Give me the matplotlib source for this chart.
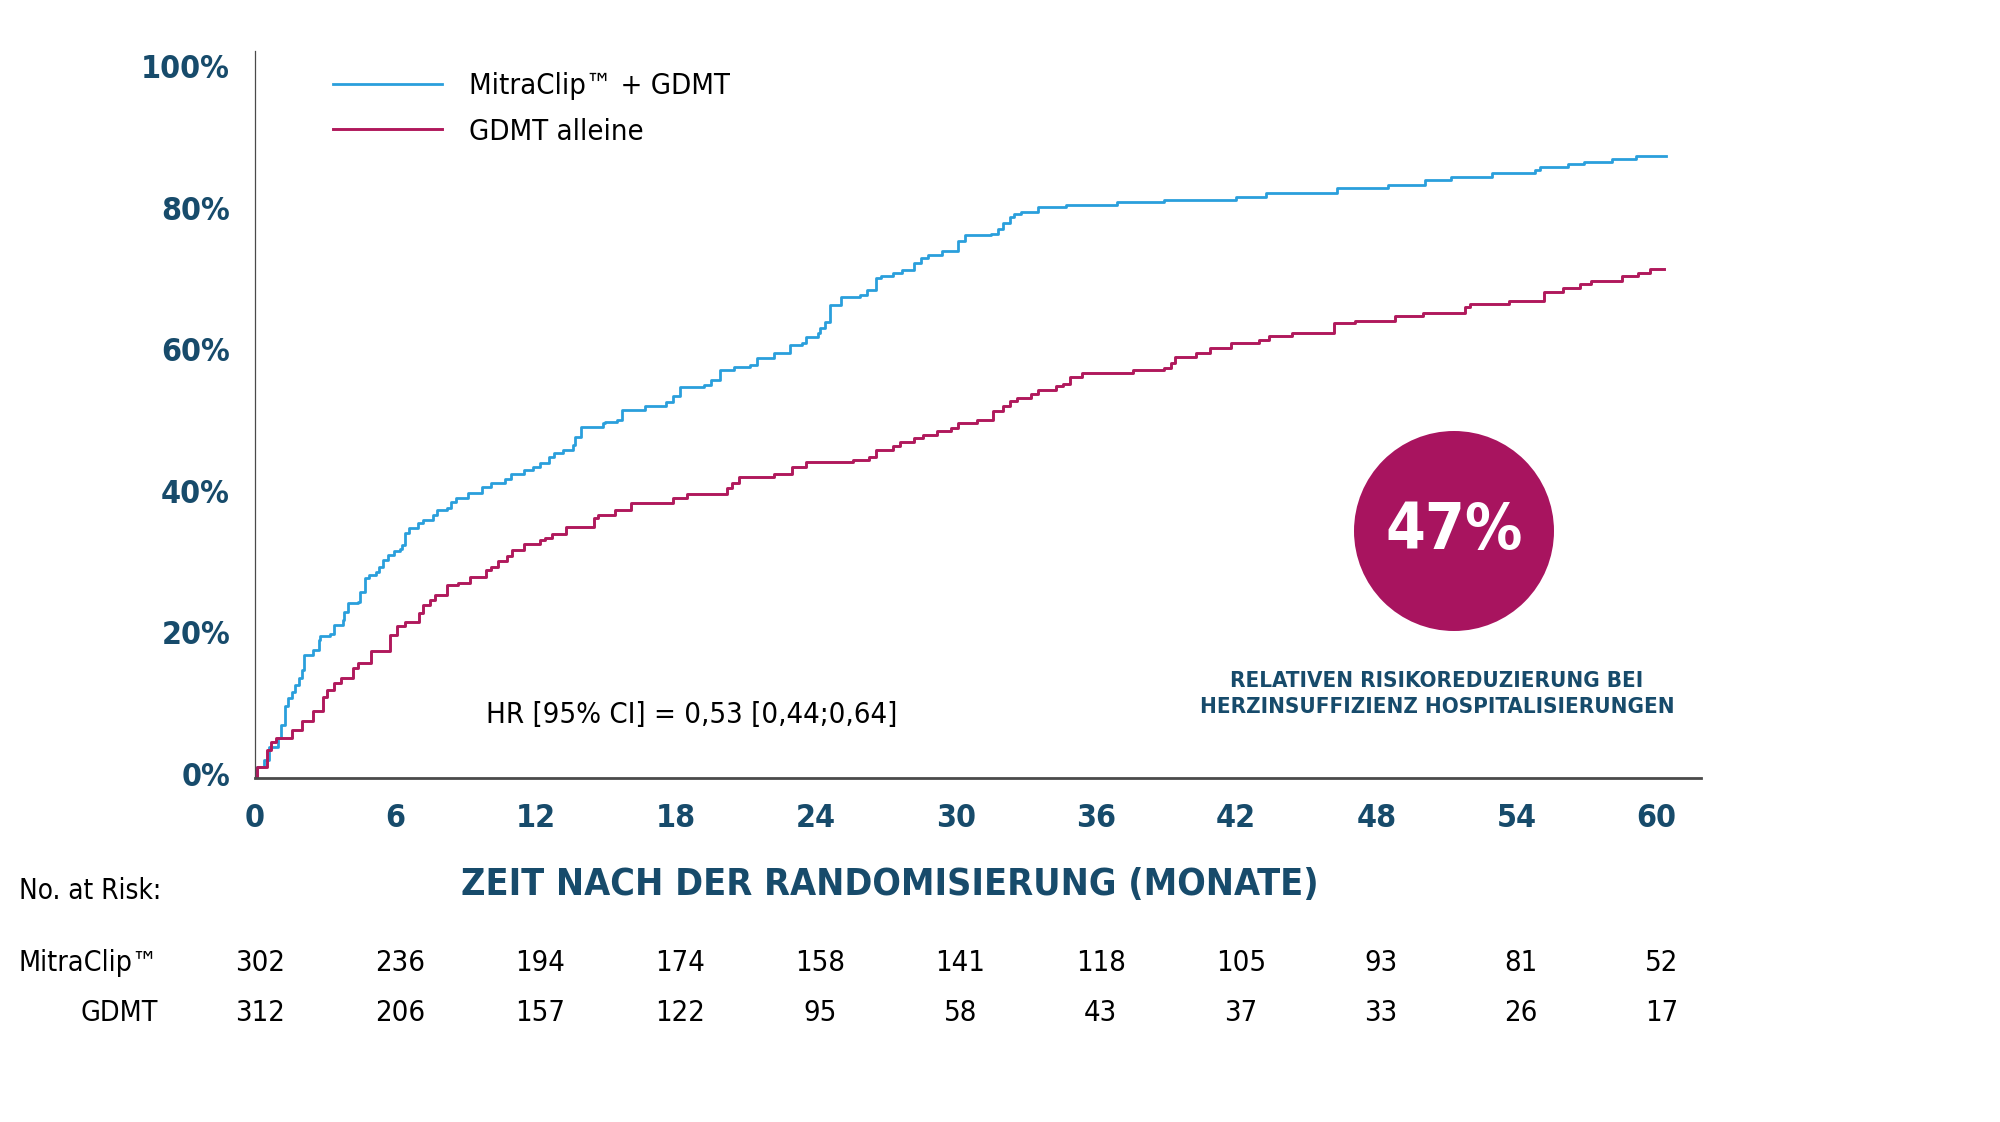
import matplotlib
matplotlib.use("Agg")
import matplotlib.pyplot as plt
from matplotlib.patches import Ellipse
from matplotlib.transforms import blended_transform_factory, ScaledTranslation

# Kaplan-Meier style cumulative event rates (months, %)
clip_t = [0, 0.1, 0.4, 0.6, 1.0, 1.1, 1.3, 1.4, 1.6, 1.7, 1.9, 2.0, 2.1, 2.5, 2.75, 2.8,
          3.2, 3.4, 3.75, 3.8, 4.0, 4.4, 4.5, 4.7, 4.9, 5.2, 5.3, 5.5, 5.7, 5.96, 6.2, 6.3,
          6.4, 6.6, 6.96, 7.2, 7.6, 7.8, 8.2, 8.4, 8.6, 9.1, 9.7, 10.1, 10.7, 10.95, 11.5,
          11.9, 12.2, 12.6, 12.8, 13.2, 13.6, 13.7, 13.95, 14.9, 15.0, 15.5, 15.7, 16.7,
          17.6, 17.9, 18.2, 19.2, 19.5, 19.9, 20.5, 21.2, 21.5, 22.2, 22.9, 23.4, 23.6, 24.1,
          24.2, 24.4, 24.6, 25.1, 25.9, 26.2, 26.6, 26.8, 27.3, 27.7, 28.2, 28.5, 28.8, 29.4,
          30.1, 30.4, 31.5, 31.8, 32.0, 32.3, 32.5, 32.8, 33.5, 34.7, 36.9, 38.9, 42.0, 43.3,
          46.3, 48.5, 50.1, 51.2, 52.96, 54.8, 55.0, 56.2, 56.9, 58.1, 59.1, 60.4]
clip_pct = [0, 1.6, 2.5, 4.4, 5.6, 7.5, 10.1, 11.3, 12.2, 13.1, 14.1, 15.3, 17.4, 18.1, 19.5, 20.0,
            20.4, 21.6, 22.3, 23.5, 24.7, 24.9, 26.3, 28.2, 28.7, 29.1, 29.8, 30.8, 31.5, 32.0, 32.4, 32.9,
            34.6, 35.3, 36.0, 36.4, 37.1, 37.9, 38.1, 39.0, 39.5, 40.2, 41.1, 41.7, 42.3, 42.9, 43.5,
            44.0, 44.5, 45.4, 45.9, 46.3, 47.0, 48.2, 49.6, 50.1, 50.3, 50.6, 52.0, 52.6,
            53.1, 53.9, 55.3, 55.5, 56.2, 57.6, 58.1, 58.3, 59.3, 60.0, 61.2, 61.4, 62.3, 62.8,
            63.5, 64.4, 66.8, 68.0, 68.2, 68.9, 70.6, 70.9, 71.4, 71.8, 72.7, 73.4, 73.9, 74.4,
            75.8, 76.7, 76.9, 77.6, 78.4, 79.3, 79.7, 80.0, 80.6, 80.9, 81.3, 81.6, 82.0, 82.7,
            83.3, 83.8, 84.5, 84.9, 85.4, 85.9, 86.3, 86.7, 87.0, 87.4, 87.9, 87.9]

gdmt_t = [0, 0.1, 0.5, 0.7, 0.9, 1.25, 1.6, 2.0, 2.5, 2.9, 3.1, 3.4, 3.7, 4.2, 4.4, 4.96,
          5.8, 6.1, 6.4, 7.0, 7.2, 7.5, 7.7, 8.2, 8.7, 9.2, 9.9, 10.1, 10.4, 10.8, 11.0,
          11.5, 12.2, 12.4, 12.7, 13.3, 14.0, 14.5, 14.7, 15.4, 16.1, 17.9, 18.5, 20.2, 20.4,
          20.7, 22.2, 23.0, 23.6, 25.6, 26.3, 26.6, 27.3, 27.6, 28.2, 28.6, 29.2, 29.8, 30.1,
          30.9, 31.6, 32.0, 32.3, 32.6, 33.2, 33.5, 34.3, 34.6, 34.9, 35.4, 37.6, 38.9, 39.2,
          39.4, 40.3, 40.9, 41.8, 43.0, 43.4, 44.4, 46.2, 47.1, 48.8, 50.0, 51.8, 52.0, 53.7,
          55.2, 56.0, 56.7, 57.2, 58.5, 59.2, 59.7, 60.3]
gdmt_pct = [0, 1.6, 4.0, 5.1, 5.6, 5.6, 6.8, 8.0, 9.4, 11.5, 12.4, 13.4, 14.1, 15.5, 16.2, 18.0,
            20.2, 21.4, 22.1, 23.3, 24.4, 25.2, 25.8, 27.3, 27.6, 28.4, 29.4, 29.8, 30.6, 31.3, 32.2,
            33.1, 33.6, 33.9, 34.5, 35.4, 35.5, 36.7, 37.1, 37.9, 38.8, 39.5, 40.1, 41.0, 41.7,
            42.5, 42.9, 44.0, 44.7, 44.9, 45.4, 46.3, 46.9, 47.4, 48.0, 48.4, 49.0, 49.5, 50.1,
            50.6, 51.8, 52.6, 53.3, 53.7, 54.3, 54.8, 55.4, 55.7, 56.7, 57.2, 57.6, 57.9, 58.6,
            59.4, 60.0, 60.7, 61.4, 61.9, 62.4, 62.8, 64.2, 64.6, 65.3, 65.7, 66.6, 67.0, 67.4,
            68.7, 69.2, 69.8, 70.2, 70.9, 71.4, 71.9, 71.9]

x_ticks = [0, 6, 12, 18, 24, 30, 36, 42, 48, 54, 60]
y_ticks = [0, 20, 40, 60, 80, 100]
risk_clip = [302, 236, 194, 174, 158, 141, 118, 105, 93, 81, 52]
risk_gdmt = [312, 206, 157, 122, 95, 58, 43, 37, 33, 26, 17]

NAVY = "#174b6b"
BLUE = "#2a9fdc"
RED = "#b0195c"
PLUM = "#a8145f"

plt.rcParams["font.family"] = ["DejaVu Sans"]
plt.rcParams["font.stretch"] = "condensed"

fig = plt.figure(figsize=(20, 11.22), dpi=100)
ax = fig.add_axes([0.1275, 0.3066, 0.723, 0.648])

ax.step(clip_t, clip_pct, where="post", color=BLUE, lw=2.0, label="MitraClip™ + GDMT")
ax.step(gdmt_t, gdmt_pct, where="post", color=RED, lw=2.1, label="GDMT alleine")

ax.set_xlim(0, 61.9)
ax.set_ylim(0, 102.7)
for s in ["top", "right"]:
    ax.spines[s].set_visible(False)
ax.spines["left"].set_color("#4a4a4a")
ax.spines["left"].set_linewidth(0.9)
ax.spines["bottom"].set_color("#4a4a4a")
ax.spines["bottom"].set_linewidth(2.0)

ax.set_xticks(x_ticks)
ax.set_xticklabels([str(v) for v in x_ticks])
ax.set_yticks(y_ticks)
ax.set_yticklabels([f"{v}%" for v in y_ticks])
ax.tick_params(axis="both", length=0, labelsize=23, labelcolor=NAVY)
ax.tick_params(axis="x", pad=18)
ax.tick_params(axis="y", pad=18)
lift = ScaledTranslation(0, 4 / 100, fig.dpi_scale_trans)
for lab in ax.get_xticklabels() + ax.get_yticklabels():
    lab.set_fontweight("bold")
for lab in ax.get_yticklabels():
    lab.set_transform(lab.get_transform() + lift)

ax.legend(loc="upper left", bbox_to_anchor=(333 / 2000, 1 - 72 / 1122),
          bbox_transform=fig.transFigure, frameon=False, fontsize=21,
          handlelength=3.75, handletextpad=0.9, labelspacing=0.6,
          borderpad=0, borderaxespad=0)

ax.text(486 / 2000, 1 - 715 / 1122, "HR [95% CI] = 0,53 [0,44;0,64]",
        transform=fig.transFigure, fontsize=21, ha="left", va="center")

# highlight bubble
fig.add_artist(Ellipse((1454 / 2000, 1 - 531 / 1122), 200 / 2000, 200 / 1122,
                       facecolor=PLUM, edgecolor="none"))
fig.text(1454 / 2000, 1 - 531 / 1122, "47%", color="white", fontsize=46,
         fontweight="bold", ha="center", va="center")
fig.text(1437 / 2000, 1 - 694 / 1122,
         "RELATIVEN RISIKOREDUZIERUNG BEI\nHERZINSUFFIZIENZ HOSPITALISIERUNGEN",
         color=NAVY, fontsize=16, fontweight="bold", ha="center", va="center",
         linespacing=1.35)

fig.text(890 / 2000, 1 - 885 / 1122, "ZEIT NACH DER RANDOMISIERUNG (MONATE)",
         color=NAVY, fontsize=27, fontweight="bold", ha="center", va="center")

# number at risk table
fig.text(19 / 2000, 1 - 891 / 1122, "No. at Risk:", fontsize=20, ha="left", va="center")
fig.text(158 / 2000, 1 - 963 / 1122, "MitraClip™", fontsize=20.5, ha="right", va="center")
fig.text(158 / 2000, 1 - 1013 / 1122, "GDMT", fontsize=20.5, ha="right", va="center")
tr = blended_transform_factory(ax.transData, fig.transFigure)
for x, a, b in zip(x_ticks, risk_clip, risk_gdmt):
    ax.text(x + 0.2, 1 - 963 / 1122, str(a), transform=tr, fontsize=21,
            ha="center", va="center", clip_on=False)
    ax.text(x + 0.2, 1 - 1013 / 1122, str(b), transform=tr, fontsize=21,
            ha="center", va="center", clip_on=False)

fig.savefig("out.png", dpi=100, facecolor="white")
